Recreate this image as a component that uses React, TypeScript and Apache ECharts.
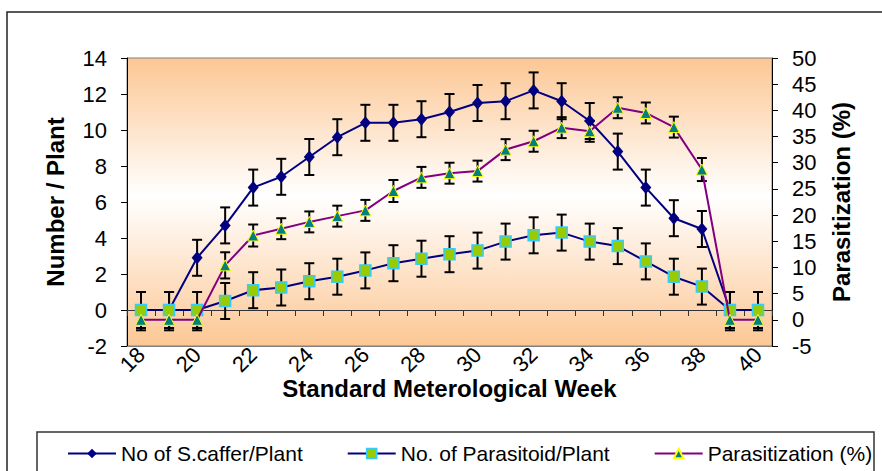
import React, { useEffect, useRef } from "react";
import * as echarts from "echarts";

const weeks = ["18","19","20","21","22","23","24","25","26","27","28","29","30","31","32","33","34","35","36","37","38","39","40"];
const scaffer = [0, 0, 2.9, 4.7, 6.8, 7.4, 8.5, 9.6, 10.4, 10.4, 10.6, 11.0, 11.5, 11.6, 12.2, 11.6, 10.5, 8.8, 6.8, 5.1, 4.5, 0, 0];
const parasitoid = [0, 0, 0, 0.5, 1.1, 1.25, 1.6, 1.85, 2.2, 2.6, 2.85, 3.1, 3.3, 3.8, 4.15, 4.3, 3.8, 3.55, 2.7, 1.85, 1.3, 0, 0];
const parasitization = [0, 0, 0, 10.4, 16.1, 17.4, 18.7, 19.8, 20.9, 24.6, 27.2, 28.0, 28.4, 32.5, 34.1, 36.7, 36.0, 40.5, 39.5, 36.8, 28.7, 0, 0];
const errScaffer = [1, 1, 1, 1, 1, 1, 1, 1, 1, 1, 1, 1, 1, 1, 1, 1, 1, 1, 1, 1, 1, 1, 1];
const errParasitoid = [1, 1, 1, 1, 1, 1, 1, 1, 1, 1, 1, 1, 1, 1, 1, 1, 1, 1, 1, 1, 1, 1, 1];
const errParasitization = [2, 2, 2, 2.5, 2.1, 2, 2, 2, 2, 2.1, 2, 2, 2, 2, 2, 2, 2, 2, 2, 2, 2.2, 2, 2];
const leftTicks = { min: -2, max: 14, interval: 2 };
const rightTicks = { min: -5, max: 50, interval: 5 };

const FONT = "'Liberation Sans', Arial, sans-serif";

function errorSeries(values: number[], errs: number[], yAxisIndex: number) {
  return {
    type: "custom",
    xAxisIndex: 0,
    yAxisIndex,
    z: 1,
    silent: true,
    encode: { x: 0, y: 1 },
    data: values.map((v, i) => [i, v, errs[i]]),
    renderItem: (params: any, api: any) => {
      const i = api.value(0);
      const v = api.value(1);
      const e = api.value(2);
      const top = api.coord([i, v + e]);
      const bot = api.coord([i, v - e]);
      const hw = 5;
      const style = { stroke: "#000", lineWidth: 2 };
      return {
        type: "group",
        children: [
          { type: "line", shape: { x1: top[0], y1: top[1], x2: bot[0], y2: bot[1] }, style },
          { type: "line", shape: { x1: top[0] - hw, y1: top[1], x2: top[0] + hw, y2: top[1] }, style },
          { type: "line", shape: { x1: bot[0] - hw, y1: bot[1], x2: bot[0] + hw, y2: bot[1] }, style },
        ],
      };
    },
  };
}

export default function App() {
  const ref = useRef<HTMLDivElement>(null);
  useEffect(() => {
    if (!ref.current) return;
    const chart = echarts.init(ref.current, null, { renderer: "svg" });
    const axisText = { color: "#000", fontFamily: FONT, fontSize: 22 };
    chart.setOption({
      animation: false,
      backgroundColor: "#fff",
      textStyle: { fontFamily: FONT },
      grid: {
        left: 127,
        top: 58,
        width: 645,
        height: 288,
        show: true,
        borderColor: "#808080",
        borderWidth: 1,
        backgroundColor: {
          type: "linear",
          x: 0, y: 0, x2: 0, y2: 1,
          colorStops: [
            { offset: 0, color: "#FCC794" },
            { offset: 0.48, color: "#FFFFFF" },
            { offset: 1, color: "#FCC794" },
          ],
        },
      },
      graphic: [
        { type: "rect", z: -10, shape: { x: 7, y: 12, width: 900, height: 500 }, style: { fill: "none", stroke: "#222", lineWidth: 1.5 } },
        { type: "rect", z: -10, shape: { x: 37, y: 432, width: 837, height: 60 }, style: { fill: "none", stroke: "#333", lineWidth: 1.5 } },
      ],
      legend: {
        left: 62,
        top: 438,
        itemWidth: 48,
        itemHeight: 12,
        itemGap: 44,
        textStyle: { color: "#000", fontFamily: FONT, fontSize: 21 },
        data: ["No of S.caffer/Plant", "No. of Parasitoid/Plant", "Parasitization (%)"],
      },
      xAxis: [
        {
          type: "category",
          data: weeks,
          boundaryGap: true,
          position: "bottom",
          axisLine: { onZero: false, show: true, lineStyle: { color: "#808080", width: 1 } },
          axisTick: { show: false },
          axisLabel: { ...axisText, rotate: 45, interval: 1, margin: 5 },
          name: "Standard Meterological Week",
          nameLocation: "middle",
          nameGap: 30,
          nameMoveOverlap: false,
          nameTextStyle: { color: "#000", fontFamily: FONT, fontSize: 24, fontWeight: "bold" },
          splitLine: { show: false },
        },
        {
          type: "category",
          data: weeks,
          boundaryGap: true,
          position: "bottom",
          axisLine: { onZero: true, onZeroAxisIndex: 0, show: true, lineStyle: { color: "#333", width: 1 } },
          axisTick: { show: true, interval: 0, alignWithLabel: false, length: 6, lineStyle: { color: "#333" } },
          axisLabel: { show: false },
          splitLine: { show: false },
        },
      ],
      yAxis: [
        {
          type: "value",
          position: "left",
          min: leftTicks.min,
          max: leftTicks.max,
          interval: leftTicks.interval,
          axisLine: { show: true, lineStyle: { color: "#000", width: 1 } },
          axisTick: { show: true, length: 6, lineStyle: { color: "#000" } },
          axisLabel: { ...axisText, margin: 20 },
          splitLine: { show: false },
          name: "Number / Plant",
          nameLocation: "middle",
          nameRotate: 90,
          nameGap: 60,
          nameTextStyle: { color: "#000", fontFamily: FONT, fontSize: 24, fontWeight: "bold" },
        },
        {
          type: "value",
          position: "right",
          min: rightTicks.min,
          max: rightTicks.max,
          interval: rightTicks.interval,
          axisLine: { show: true, lineStyle: { color: "#000", width: 1 } },
          axisTick: { show: true, length: 6, lineStyle: { color: "#000" } },
          axisLabel: { ...axisText, margin: 20 },
          splitLine: { show: false },
          name: "Parasitization (%)",
          nameLocation: "middle",
          nameRotate: 90,
          nameGap: 57,
          nameTextStyle: { color: "#000", fontFamily: FONT, fontSize: 24, fontWeight: "bold" },
        },
      ],
      series: [
        errorSeries(scaffer, errScaffer, 0),
        errorSeries(parasitoid, errParasitoid, 0),
        errorSeries(parasitization, errParasitization, 1),
        {
          name: "No of S.caffer/Plant",
          type: "line",
          xAxisIndex: 0,
          yAxisIndex: 0,
          z: 3,
          data: scaffer,
          symbol: "diamond",
          symbolSize: [11, 13],
          lineStyle: { color: "#000080", width: 2 },
          itemStyle: { color: "#000080", borderColor: "#000080", borderWidth: 0 },
        },
        {
          name: "No. of Parasitoid/Plant",
          type: "line",
          xAxisIndex: 0,
          yAxisIndex: 0,
          z: 3,
          data: parasitoid,
          symbol: "rect",
          symbolSize: 11,
          lineStyle: { color: "#000080", width: 2 },
          itemStyle: { color: "#99CC00", borderColor: "#33CCFF", borderWidth: 1.5 },
        },
        {
          name: "Parasitization (%)",
          type: "line",
          xAxisIndex: 0,
          yAxisIndex: 1,
          z: 4,
          data: parasitization,
          symbol: "triangle",
          symbolSize: 11,
          lineStyle: { color: "#800080", width: 2 },
          itemStyle: { color: "#008080", borderColor: "#FFFF00", borderWidth: 1 },
        },
      ],
    });
    return () => chart.dispose();
  }, []);
  return <div ref={ref} style={{ width: 882, height: 471, position: "absolute", left: 0, top: 0 }} />;
}
